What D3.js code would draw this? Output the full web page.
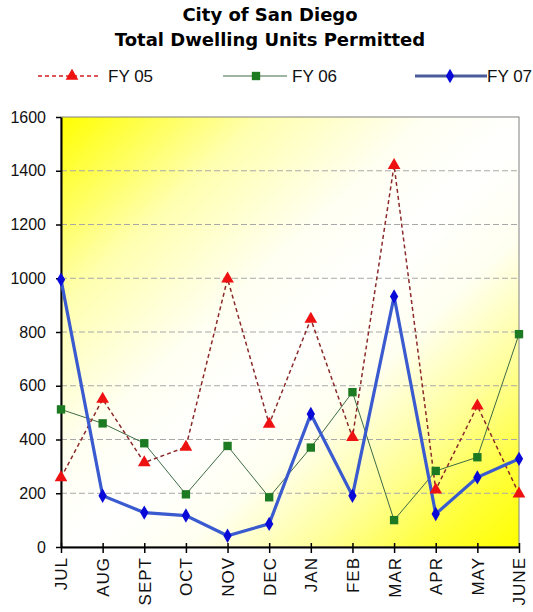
<!DOCTYPE html>
<html><head><meta charset="utf-8">
<script src="https://cdn.jsdelivr.net/npm/d3@7"></script>
<style>html,body{margin:0;padding:0;background:#fff;overflow:hidden}</style>
</head><body>
<script>
const months = ["JUL","AUG","SEPT","OCT","NOV","DEC","JAN","FEB","MAR","APR","MAY","JUNE"];
const fy05 = [258, 550, 314, 372, 998, 457, 848, 408, 1420, 213, 525, 198];
const fy06 = [512, 460, 386, 196, 376, 185, 370, 576, 100, 283, 334, 792];
const fy07 = [995, 191, 128, 117, 42, 86, 495, 191, 932, 123, 259, 328];
const yTicks = [0, 200, 400, 600, 800, 1000, 1200, 1400, 1600];
const titleLines = ["City of San Diego", "Total Dwelling Units Permitted"];
const seriesNames = ["FY 05", "FY 06", "FY 07"];

const W = 533, H = 612;
const L = 61, R = 519, T = 117, B = 547;
const svg = d3.select("body").append("svg").attr("width", W).attr("height", H);

const defs = svg.append("defs");
const g = defs.append("linearGradient").attr("id", "bg").attr("x1", 0).attr("y1", 0).attr("x2", 1).attr("y2", 1);
[[0,"#ffff00"],[0.08,"#ffff40"],[0.22,"#ffffb0"],[0.4,"#fffff2"],[0.52,"#ffffff"],[0.64,"#fffff0"],[0.78,"#ffff98"],[0.9,"#ffff38"],[1,"#ffff00"]]
  .forEach(([o,c]) => g.append("stop").attr("offset", o).attr("stop-color", c));

const x = d3.scalePoint().domain(months).range([L, R]);
const y = d3.scaleLinear().domain([0, 1600]).range([B, T]);

svg.append("rect").attr("x", L).attr("y", T).attr("width", R - L).attr("height", B - T)
  .attr("fill", "url(#bg)").attr("stroke", "#808080").attr("stroke-width", 1);

// gridlines
svg.append("g").selectAll("line").data(yTicks.filter(d => d > 0 && d < 1600)).join("line")
  .attr("x1", L).attr("x2", R).attr("y1", d => y(d)).attr("y2", d => y(d))
  .attr("stroke", "#a8a8a8").attr("stroke-width", 1).attr("stroke-dasharray", "6,3");

// y axis
const ya = svg.append("g").attr("transform", `translate(${L},0)`)
  .call(d3.axisLeft(y).tickValues(yTicks).tickFormat(d3.format("d")).tickSize(5).tickPadding(10).tickSizeOuter(0));
ya.select(".domain").attr("stroke", "#000").attr("stroke-width", 2);
ya.selectAll(".tick line").attr("stroke", "#000").attr("stroke-width", 1.5);
ya.selectAll("text").attr("font-family", "Liberation Sans, Arial, sans-serif").attr("font-size", 16).attr("fill", "#111");

// x axis
const xa = svg.append("g").attr("transform", `translate(0,${B})`)
  .call(d3.axisBottom(x).tickSize(5).tickSizeOuter(0));
xa.select(".domain").attr("stroke", "#000").attr("stroke-width", 2);
xa.selectAll(".tick line").attr("stroke", "#000").attr("stroke-width", 1.5).attr("y1", -4).attr("y2", 6);
xa.selectAll("text").attr("font-family", "Liberation Sans, Arial, sans-serif").attr("font-size", 17).attr("fill", "#111")
  .attr("transform", "rotate(-90)").attr("text-anchor", "end").attr("x", -10).attr("y", 0).attr("dy", "0.35em")
  .attr("letter-spacing", 1);

const line = d3.line().x((d, i) => x(months[i])).y(d => y(d));

const tri = d3.symbol().type(d3.symbolTriangle).size(70);
const sq = d3.symbol().type(d3.symbolSquare).size(70);
const dia = d3.symbol().type(d3.symbolDiamond).size(60);

// FY06
svg.append("path").datum(fy06).attr("d", line).attr("fill", "none").attr("stroke", "#3d6b45").attr("stroke-width", 1);
// FY05
svg.append("path").datum(fy05).attr("d", line).attr("fill", "none").attr("stroke", "#8a2a2a").attr("stroke-width", 1.5).attr("stroke-dasharray", "4,3");
// FY07
svg.append("path").datum(fy07).attr("d", line).attr("fill", "none").attr("stroke", "#3a5ad0").attr("stroke-width", 3.2);

svg.append("g").selectAll("path").data(fy06).join("path")
  .attr("transform", (d, i) => `translate(${x(months[i])},${y(d)})`).attr("d", sq).attr("fill", "#1c7a22");
svg.append("g").selectAll("path").data(fy05).join("path")
  .attr("transform", (d, i) => `translate(${x(months[i])},${y(d)})`).attr("d", tri).attr("fill", "#ee1111");
svg.append("g").selectAll("path").data(fy07).join("path")
  .attr("transform", (d, i) => `translate(${x(months[i])},${y(d)})`).attr("d", dia).attr("fill", "#0a0ad8");

// title
svg.append("g").selectAll("text").data(titleLines).join("text")
  .attr("x", 270).attr("y", (d, i) => 21 + i * 25).attr("text-anchor", "middle")
  .attr("font-family", "DejaVu Sans, sans-serif").attr("font-weight", "bold").attr("font-size", 18)
  .attr("fill", "#000").text(d => d);

// legend
const lg = [
  {x1: 38, x2: 100, mx: 72, tx: 108, stroke: "#d02020", w: 1.5, dash: "4,3", sym: tri, fill: "#ee1111"},
  {x1: 223, x2: 287, mx: 256, tx: 292, stroke: "#3d6b45", w: 1, dash: null, sym: sq, fill: "#1c7a22"},
  {x1: 415, x2: 487, mx: 450, tx: 487, stroke: "#4a5a9a", w: 3, dash: null, sym: dia, fill: "#0a0ad8"}
];
const ly = 76;
lg.forEach((d, i) => {
  svg.append("line").attr("x1", d.x1).attr("x2", d.x2).attr("y1", ly).attr("y2", ly)
    .attr("stroke", d.stroke).attr("stroke-width", d.w).attr("stroke-dasharray", d.dash);
  svg.append("path").attr("transform", `translate(${d.mx},${ly})`).attr("d", d.sym).attr("fill", d.fill);
  svg.append("text").attr("x", d.tx).attr("y", ly).attr("dy", "0.36em")
    .attr("font-family", "Liberation Sans, Arial, sans-serif").attr("font-size", 17).attr("fill", "#111")
    .text(seriesNames[i]);
});
</script>
</body></html>
